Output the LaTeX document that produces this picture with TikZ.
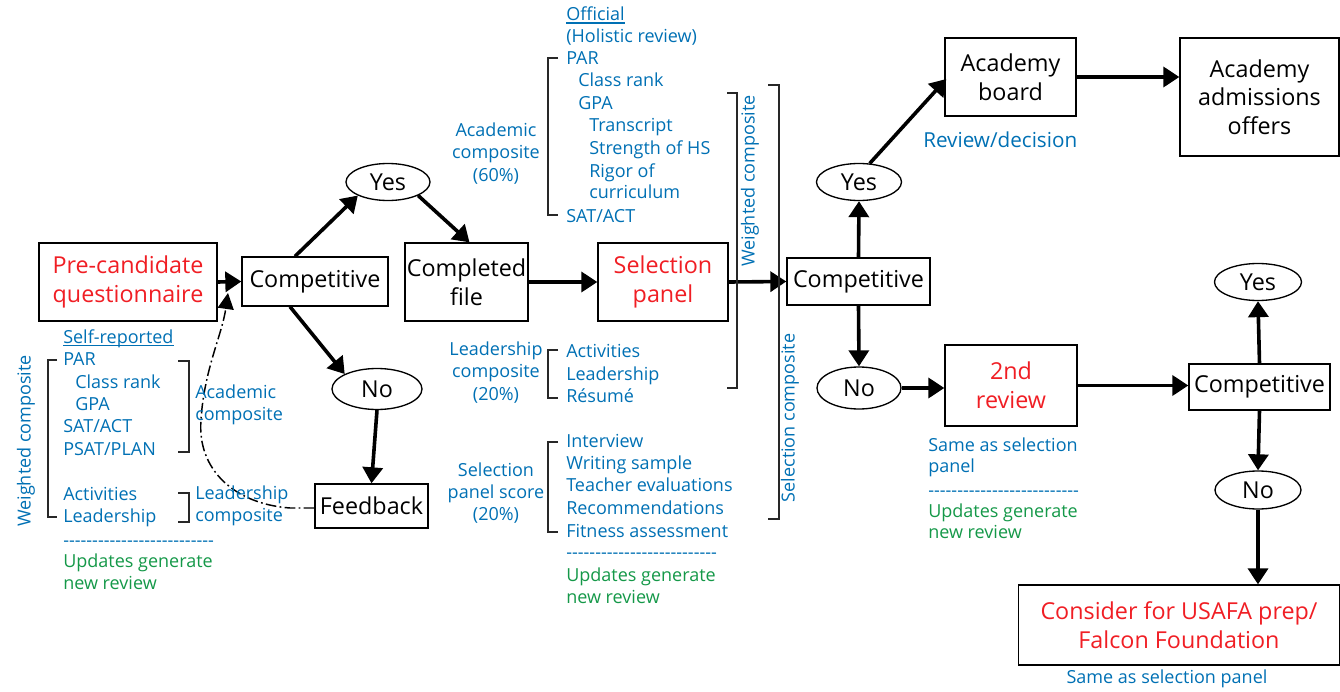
\documentclass[tikz,border=0pt]{standalone}
\usepackage{fontspec}
\setmainfont{Open Sans}
\usetikzlibrary{arrows.meta,calc,shapes.geometric}
\definecolor{cblue}{RGB}{0,112,180}
\definecolor{cred}{RGB}{240,30,36}
\definecolor{cgreen}{RGB}{20,152,72}
\definecolor{cline}{RGB}{40,40,40}
\newcommand\hyphrow{\foreach\k in {1,...,26}{\mbox{-}}}
\begin{document}
\begin{tikzpicture}[x=0.75pt,y=-0.75pt,
  sz/.style 2 args={minimum width=#1*0.75pt, minimum height=#2*0.75pt},
  box/.style={draw, line width=1pt, align=center, inner sep=0pt, font=\fontsize{17.5}{21.5}\selectfont},
  oval/.style={draw, ellipse, line width=1pt, inner sep=0pt, font=\fontsize{17.5}{21.5}\selectfont},
  arr/.style={line width=2.7pt, -{Triangle[length=12pt,width=15pt]}},
  ddash/.style={line width=1.1pt, dash pattern=on 8pt off 2.5pt on 1.3pt off 2.5pt, -{Triangle[length=12pt,width=12pt]}},
  bt/.style={text=cblue, font=\fontsize{13.5}{16.5}\selectfont, inner sep=0pt, anchor=base west},
  gt/.style={bt, text=cgreen},
  ct/.style={text=cblue, font=\fontsize{13.5}{16.5}\selectfont, inner sep=0pt, anchor=base},
  rt/.style={text=cblue, font=\fontsize{13.5}{16.5}\selectfont, inner sep=0pt, anchor=center, rotate=90},
  brk/.style={draw=cline, line width=0.8pt},
]
\useasboundingbox (0,0) rectangle (1340,692);

% ---------- boxes ----------
\node[box, sz={178}{78}, text=cred] (pre) at (128,282) {Pre-candidate\\questionnaire};
\node[box, sz={146}{49}] (comp1) at (315,281.5) {Competitive};
\node[oval, sz={84}{37}] (yes1) at (388,182) {Yes};
\node[oval, sz={90}{41}] (no1) at (377,389) {No};
\node[box, sz={113}{44}] (feedback) at (371.5,506) {Feedback};
\node[box, sz={123}{78}] (completed) at (466.5,282) {Completed\\file};
\node[box, sz={130}{78}, text=cred] (selpanel) at (663,282) {Selection\\panel};
\node[box, sz={143}{47}] (comp2) at (858.5,281.5) {Competitive};
\node[oval, sz={85}{37}] (yes2) at (859,182) {Yes};
\node[oval, sz={84}{42}] (no2) at (859,388) {No};
\node[box, sz={131}{78}] (board) at (1010.5,77) {Academy\\board};
\node[box, sz={159}{118}] (offers) at (1259.5,97) {Academy\\admissions\\offers};
\node[box, sz={132}{81}, text=cred] (review2) at (1011,385.5) {2nd\\review};
\node[box, sz={141}{46}] (comp3) at (1259.5,387) {Competitive};
\node[oval, sz={87}{37}] (yes3) at (1258,282) {Yes};
\node[oval, sz={86}{38}] (no3) at (1258,490) {No};
\node[box, sz={321}{80}, text=cred] (consider) at (1179,625) {Consider for USAFA prep/\\Falcon Foundation};

% ---------- arrows ----------
\draw[arr] (pre.east) -- (comp1.west);
\draw[arr] ($(comp1.north)+(-20,0)$) -- (yes1.south west);
\draw[arr] (yes1.south east) -- ($(completed.north)+(3,0)$);
\draw[arr] ($(comp1.south)+(-25,0)$) -- (no1.north west);
\draw[arr] (no1.south) -- (feedback.north);
\draw[arr] (completed.east) -- (selpanel.west);
\draw[arr] (selpanel.east) -- (comp2.west);
\draw[arr] (comp2.north) -- (yes2.south);
\draw[arr] (yes2.60) -- ($(board.west)+(2,2)$);
\draw[arr] (board.east) -- (board.east -| offers.west);
\draw[arr] (comp2.south) -- (no2.north);
\draw[arr] (no2.east) -- (no2.east -| review2.west);
\draw[arr] (review2.east) -- (review2.east -| comp3.west);
\draw[arr] (comp3.north) -- (yes3.south);
\draw[arr] (comp3.south) -- (no3.north);
\draw[arr] (no3.south) -- (no3.south |- consider.north);

% dash-dot feedback loop
\coordinate (ddend) at (228,293);
\draw[ddash] ($(feedback.west)+(0,2)$) -- (290,508) .. controls (235,504) and (197,470) .. (201,420) .. controls (204,370) and (222,335) .. (ddend);

% ---------- left column ----------
\node[bt] (selfrep) at (63,343) {Self-reported};
\draw[cblue, line width=0.8pt] ($(selfrep.base west)+(0,2.5)$) -- ($(selfrep.base east)+(0,2.5)$);
\foreach \t/\x/\y [count=\i] in {PAR/63/365, Class rank/75/388, GPA/75/410, {SAT/ACT}/63/432, {PSAT/PLAN}/63/455, Activities/63/500, Leadership/63/522}
  \node[bt, name=L\i] at (\x,\y) {\t};
\node[bt] (ldash) at (63,546) {\hyphrow};
\node[gt] (lup1) at (63,567) {Updates generate};
\node[gt] (lup2) at (63,589) {new review};
\node[bt] (lac1) at (195,398) {Academic};
\node[bt] (lac2) at (195,420) {composite};
\node[bt] (lle1) at (195,499) {Leadership};
\node[bt] (lle2) at (195,521) {composite};
\node[rt] (lwc) at (26,441) {Weighted composite};
\draw[brk] (57,360) -- (48,360) -- (48,517) -- (57,517);
\draw[brk] (178,361) -- (189,361) -- (189,452) -- (178,452);
\draw[brk] (178,493) -- (189,493) -- (189,522) -- (178,522);

% ---------- middle column ----------
\node[bt] (official) at (566,21) {Official};
\draw[cblue, line width=0.8pt] ($(official.base west)+(0,2)$) -- ($(official.base east)+(0,2)$);
\foreach \t/\x/\y [count=\i] in {(Holistic review)/566/43, PAR/566/65, Class rank/578/87, GPA/578/110, Transcript/589/132, Strength of HS/589/155, Rigor of/589/177, curriculum/589/199, {SAT/ACT}/566/222, Activities/566/357, Leadership/566/380, Résumé/566/402, Interview/566/447, Writing sample/566/469, Teacher evaluations/566/491, Recommendations/566/514, Fitness assessment/566/537}
  \node[bt, name=M\i] at (\x,\y) {\t};
\node[bt] (mdash) at (566,558) {\hyphrow};
\node[gt] (mup1) at (566,581) {Updates generate};
\node[gt] (mup2) at (566,603) {new review};
\foreach \t/\y [count=\i] in {Academic/137, composite/159, (60\%)/181, Leadership/355, composite/377, (20\%)/400, Selection/476, panel score/498, (20\%)/520}
  \node[ct, name=C\i] at (496,\y) {\t};
\draw[brk] (558,58) -- (548,58) -- (548,215) -- (558,215);
\draw[brk] (558,350) -- (548,350) -- (548,398) -- (558,398);
\draw[brk] (558,442) -- (548,442) -- (548,532) -- (558,532);
\draw[brk] (727,93) -- (737,93) -- (737,388) -- (727,388);
\draw[brk] (768,85) -- (779,85) -- (779,519) -- (768,519);
\node[rt] (mwc) at (750,181) {Weighted composite};
\node[rt] (msc) at (790,418) {Selection composite};

% ---------- right ----------
\node[bt, font=\fontsize{15.5}{19}\selectfont] (revdec) at (923,147) {Review/decision};
\node[bt] (r1) at (928,451) {Same as selection};
\node[bt] (r2) at (928,472) {panel};
\node[bt] (rdash) at (928,496) {\hyphrow};
\node[gt] (r3) at (928,517) {Updates generate};
\node[gt] (r4) at (928,538) {new review};
\node[ct] (same) at (1167,683) {Same as selection panel};
\end{tikzpicture}
\end{document}
